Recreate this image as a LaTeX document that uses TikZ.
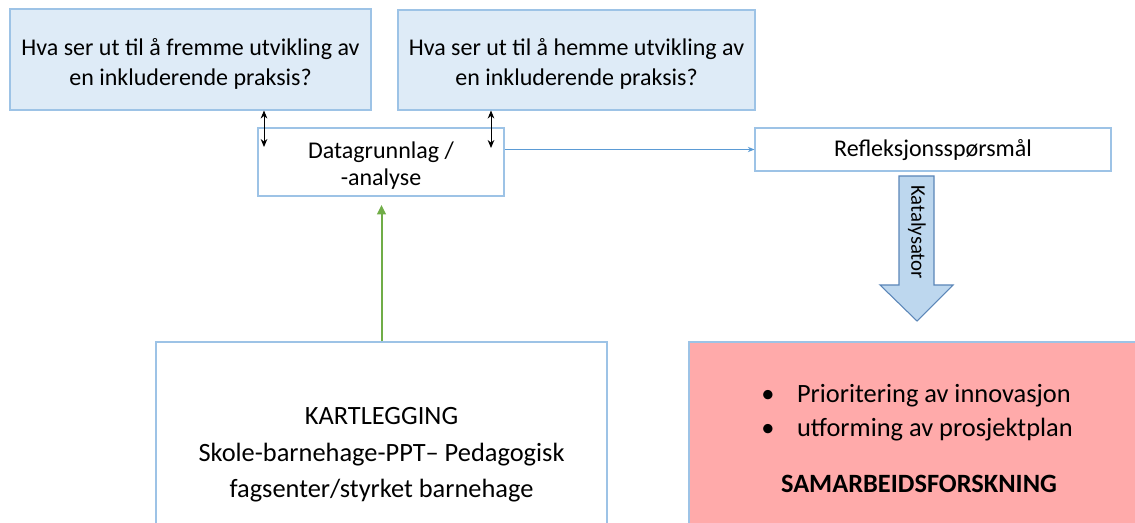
\documentclass[tikz,border=0pt]{standalone}
\usepackage{fontspec}
\setmainfont{Carlito}
\usetikzlibrary{fit,arrows.meta}
\definecolor{boxfill}{HTML}{DEEBF7}
\definecolor{boxline}{HTML}{9DC3E6}
\definecolor{linkblue}{HTML}{5B9BD5}
\definecolor{arrowfill}{HTML}{BDD7EE}
\definecolor{arrowline}{HTML}{5B86B8}
\definecolor{pinkfill}{HTML}{FFAAAA}
\definecolor{greenline}{HTML}{70AD47}
\tikzset{
  qbox/.style={draw=boxline, fill=boxfill, line width=0.8pt, inner sep=0pt},
  wbox/.style={draw=boxline, fill=white, line width=0.8pt, inner sep=0pt},
  txt/.style={inner sep=0pt, align=center},
  qtxt/.style={txt, font=\fontsize{18}{22.5}\selectfont},
  wtxt/.style={txt, font=\fontsize{18}{20.25}\selectfont},
  dbl/.style={black, line width=0.75pt, {Stealth[length=6pt,width=5pt]}-{Stealth[length=6pt,width=5pt]}},
}
\begin{document}
\begin{tikzpicture}[x=0.75pt,y=-0.75pt]
\useasboundingbox (0,0) rectangle (1135,523);
\clip (0,0) rectangle (1135,523);
% top question boxes
\node[qbox, fit={(10,9) (371,110)}] (b1) {};
\node[qtxt] (b1t) at ([yshift=-3pt]b1.center) {Hva ser ut til å fremme utvikling av\\en inkluderende praksis?};
\node[qbox, fit={(398,10) (755,110)}] (b2) {};
\node[qtxt] (b2t) at ([yshift=-3pt]b2.center) {Hva ser ut til å hemme utvikling av\\en inkluderende praksis?};
% data box
\node[wbox, fit={(258,128) (504,196)}] (data) {};
\node[wtxt] (datat) at ([yshift=-3pt]data.center) {Datagrunnlag /\\-analyse};
% reflection box
\node[wbox, fit={(755,128) (1111,171)}] (refl) {};
\node[wtxt] (reflt) at ([yshift=-0.7pt]refl.center) {Refleksjonsspørsmål};
% bottom boxes
\node[wbox, fit={(156,342) (607,540)}] (kart) {};
\node[txt, font=\fontsize{19.8}{27.3}\selectfont] (karttxt) at (381.5,455) {KARTLEGGING\\Skole-barnehage-PPT– Pedagogisk\\fagsenter/styrket barnehage};
\node[draw=boxline, fill=pinkfill, line width=0.8pt, inner sep=0pt, fit={(689,342) (1145,540)}] (pink) {};
\node[inner sep=0pt, anchor=west, font=\fontsize{19.8}{25.5}\selectfont] (plist) at (761,413)
  {\begin{tabular}{@{}l@{\hspace{17pt}}l@{}}\textbullet & Prioritering av innovasjon\\ \textbullet & utforming av prosjektplan\end{tabular}};
\node[txt, font=\fontsize{19.8}{25.5}\selectfont\bfseries] (samarb) at (919,484) {SAMARBEIDSFORSKNING};
% double arrows
\coordinate (d1) at (264,147);
\coordinate (d2) at (491,148);
\draw[dbl] (b1.south -| d1) -- (d1);
\draw[dbl] (b2.south -| d2) -- (d2);
% link data -> reflection
\draw[linkblue, line width=0.9pt, -{Stealth[length=5pt,width=4pt]}] (data.east |- refl.west) -- (refl.west);
% green arrow
\coordinate (gtip) at (381.5,205);
\draw[greenline, line width=1.5pt, -{Triangle[length=7pt,width=6.5pt]}] (kart.north) -- (gtip);
% big catalyst arrow
\draw[arrowline, fill=arrowfill, line width=0.8pt, line join=miter]
  (899,176) -- (934,176) -- (934,285) -- (953,285) -- (917,321) -- (880,285) -- (899,285) -- cycle;
\node[txt, rotate=-90, font=\fontsize{15.6}{18}\selectfont] (kat) at (917,232) {Katalysator};
\end{tikzpicture}
\end{document}
